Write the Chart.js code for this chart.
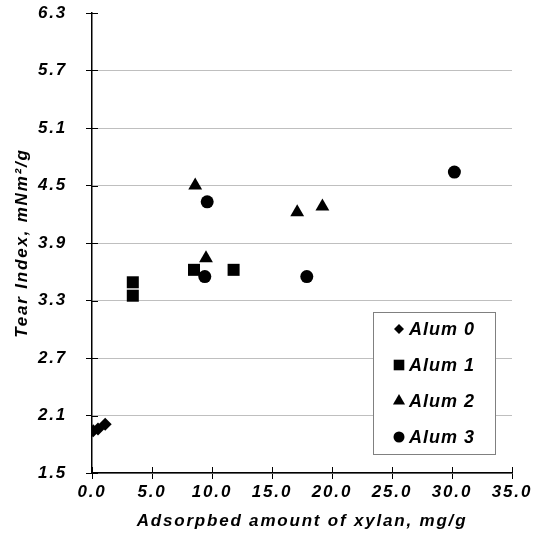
<!DOCTYPE html>
<html>
<head>
<meta charset="utf-8">
<script src="https://cdn.jsdelivr.net/npm/chart.js@4/dist/chart.umd.min.js"></script>
<style>
html, body { margin: 0; padding: 0; background: #fff; }
#wrap { width: 541px; height: 550px; }
</style>
</head>
<body>
<div id="wrap"><canvas id="tearChart" width="541" height="550"></canvas></div>
<script>
// series names
const seriesNames = ['Alum 0', 'Alum 1', 'Alum 2', 'Alum 3'];

// adsorbed amount of xylan (mg/g) and tear index (mNm2/g) per series
const alum0X = [0.1, 0.5, 1.1];
const alum0Y = [1.94, 1.96, 2.01];
const alum1X = [3.4, 3.4, 8.5, 11.8];
const alum1Y = [3.49, 3.35, 3.62, 3.62];
const alum2X = [8.6, 9.5, 17.1, 19.2];
const alum2Y = [4.50, 3.74, 4.22, 4.28];
const alum3X = [9.6, 9.4, 17.9, 30.2];
const alum3Y = [4.33, 3.55, 3.55, 4.64];

// tick labels
const xTickLabels = ['0.0', '5.0', '10.0', '15.0', '20.0', '25.0', '30.0', '35.0'];
const yTickLabels = ['1.5', '2.1', '2.7', '3.3', '3.9', '4.5', '5.1', '5.7', '6.3'];

const FONT = '"Liberation Sans", Arial, sans-serif';
const pointStyles = ['rectRot', 'rect', 'triangle', 'circle'];
const pointRadii = [6.5, 8.5, 8, 6.5];
const legendRadii = [5, 7.5, 7, 5.5];

function toPoints(xs, ys)
{
    return xs.map((x, i) => ({x: x, y: ys[i]}));
}

const seriesData = [
    toPoints(alum0X, alum0Y),
    toPoints(alum1X, alum1Y),
    toPoints(alum2X, alum2Y),
    toPoints(alum3X, alum3Y),
];

//spaced-out lettering like the original
const spacingPlugin = {
    id: 'spacing',
    beforeUpdate(chart) { chart.ctx.letterSpacing = '1.8px'; },
    beforeDraw(chart) { chart.ctx.letterSpacing = '1.8px'; }
};

//tick marks that cross the axis lines
const crossTicksPlugin = {
    id: 'crossTicks',
    afterDraw(chart)
    {
        const {ctx, chartArea, scales} = chart;
        ctx.save();
        ctx.strokeStyle = '#000';
        ctx.lineWidth = 1;
        ctx.beginPath();
        scales.y.ticks.forEach(t => {
            const py = Math.round(scales.y.getPixelForValue(t.value)) + 0.5;
            ctx.moveTo(chartArea.left, py);
            ctx.lineTo(chartArea.left + 6, py);
        });
        scales.x.ticks.forEach(t => {
            const px = Math.round(scales.x.getPixelForValue(t.value)) + 0.5;
            ctx.moveTo(px, chartArea.bottom);
            ctx.lineTo(px, chartArea.bottom - 6);
        });
        ctx.stroke();
        ctx.restore();
    }
};

//boxed legend inside the plot area
const legendBoxPlugin = {
    id: 'legendBox',
    afterDatasetsDraw(chart)
    {
        const {ctx, chartArea} = chart;
        const x = chartArea.right - 139;
        const y = chartArea.bottom - 161;
        const w = 122, h = 142;
        ctx.save();
        ctx.fillStyle = '#fff';
        ctx.fillRect(x, y, w, h);
        ctx.strokeStyle = '#808080';
        ctx.lineWidth = 1;
        ctx.strokeRect(x + 0.5, y + 0.5, w, h);
        chart.data.datasets.forEach((ds, i) => {
            const cy = y + 17 + i * 36;
            ctx.fillStyle = '#000';
            Chart.helpers.drawPoint(ctx, {pointStyle: ds.pointStyle, radius: legendRadii[i], rotation: 0, borderWidth: 0}, x + 26, cy);
            ctx.font = 'italic bold 18px ' + FONT;
            ctx.letterSpacing = '1px';
            ctx.textAlign = 'left';
            ctx.textBaseline = 'middle';
            ctx.fillText(ds.label, x + 36, cy + 1);
        });
        ctx.restore();
    }
};

const ctx = document.getElementById('tearChart');
const chart = new Chart(ctx,
    {
        type: 'scatter',
        data:
            {
                datasets: seriesNames.map((name, i) => ({
                    label: name,
                    data: seriesData[i],
                    pointStyle: pointStyles[i],
                    pointRadius: pointRadii[i],
                    pointHoverRadius: pointRadii[i],
                    backgroundColor: '#000',
                    borderColor: '#000',
                    borderWidth: 0,
                    showLine: false,
                }))
            },
        options:
            {
                responsive: false,
                animation: false,
                layout: { padding: { top: 13, right: 29, left: 0, bottom: 0 } },
                plugins:
                    {
                        legend: { display: false },
                        tooltip: { enabled: false },
                    },
                scales:
                    {
                        x:
                            {
                                type: 'linear',
                                min: 0,
                                max: 35,
                                afterFit(scale) {
                                    scale.height = 77;
                                    scale.paddingLeft = 0;
                                    scale.paddingRight = 0;
                                },
                                ticks:
                                    {
                                        stepSize: 5,
                                        autoSkip: false,
                                        maxRotation: 0,
                                        padding: 3,
                                        color: '#000',
                                        font: { family: FONT, size: 17, weight: 'bold', style: 'italic' },
                                        callback: (value, index) => xTickLabels[index],
                                    },
                                grid:
                                    {
                                        drawOnChartArea: false,
                                        drawTicks: true,
                                        tickLength: 6,
                                        tickColor: '#000',
                                    },
                                border: { color: '#000', width: 1.5 },
                                title:
                                    {
                                        display: true,
                                        text: 'Adsorpbed amount of xylan, mg/g',
                                        color: '#000',
                                        font: { family: FONT, size: 17, weight: 'bold', style: 'italic' },
                                        padding: { top: 0, bottom: 18 },
                                    }
                            },
                        y:
                            {
                                type: 'linear',
                                min: 1.5,
                                max: 6.3,
                                afterFit(scale) {
                                    scale.width = 92;
                                    scale.paddingTop = 0;
                                    scale.paddingBottom = 0;
                                },
                                ticks:
                                    {
                                        stepSize: 0.6,
                                        autoSkip: false,
                                        padding: 19,
                                        color: '#000',
                                        font: { family: FONT, size: 17, weight: 'bold', style: 'italic' },
                                        callback: (value, index) => yTickLabels[index],
                                    },
                                grid:
                                    {
                                        color: (c) => (c.tick && c.tick.value > 6.2) ? 'rgba(0,0,0,0)' : '#bfbfbf',
                                        lineWidth: 1,
                                        drawTicks: true,
                                        tickLength: 6,
                                        tickColor: '#000',
                                    },
                                border: { color: '#000', width: 1.5 },
                                title:
                                    {
                                        display: true,
                                        text: 'Tear Index, mNm²/g',
                                        color: '#000',
                                        font: { family: FONT, size: 17, weight: 'bold', style: 'italic' },
                                        padding: { top: 12, bottom: 0 },
                                    }
                            }
                    }
            },
        plugins: [spacingPlugin, legendBoxPlugin, crossTicksPlugin]
    });
</script>
</body>
</html>
